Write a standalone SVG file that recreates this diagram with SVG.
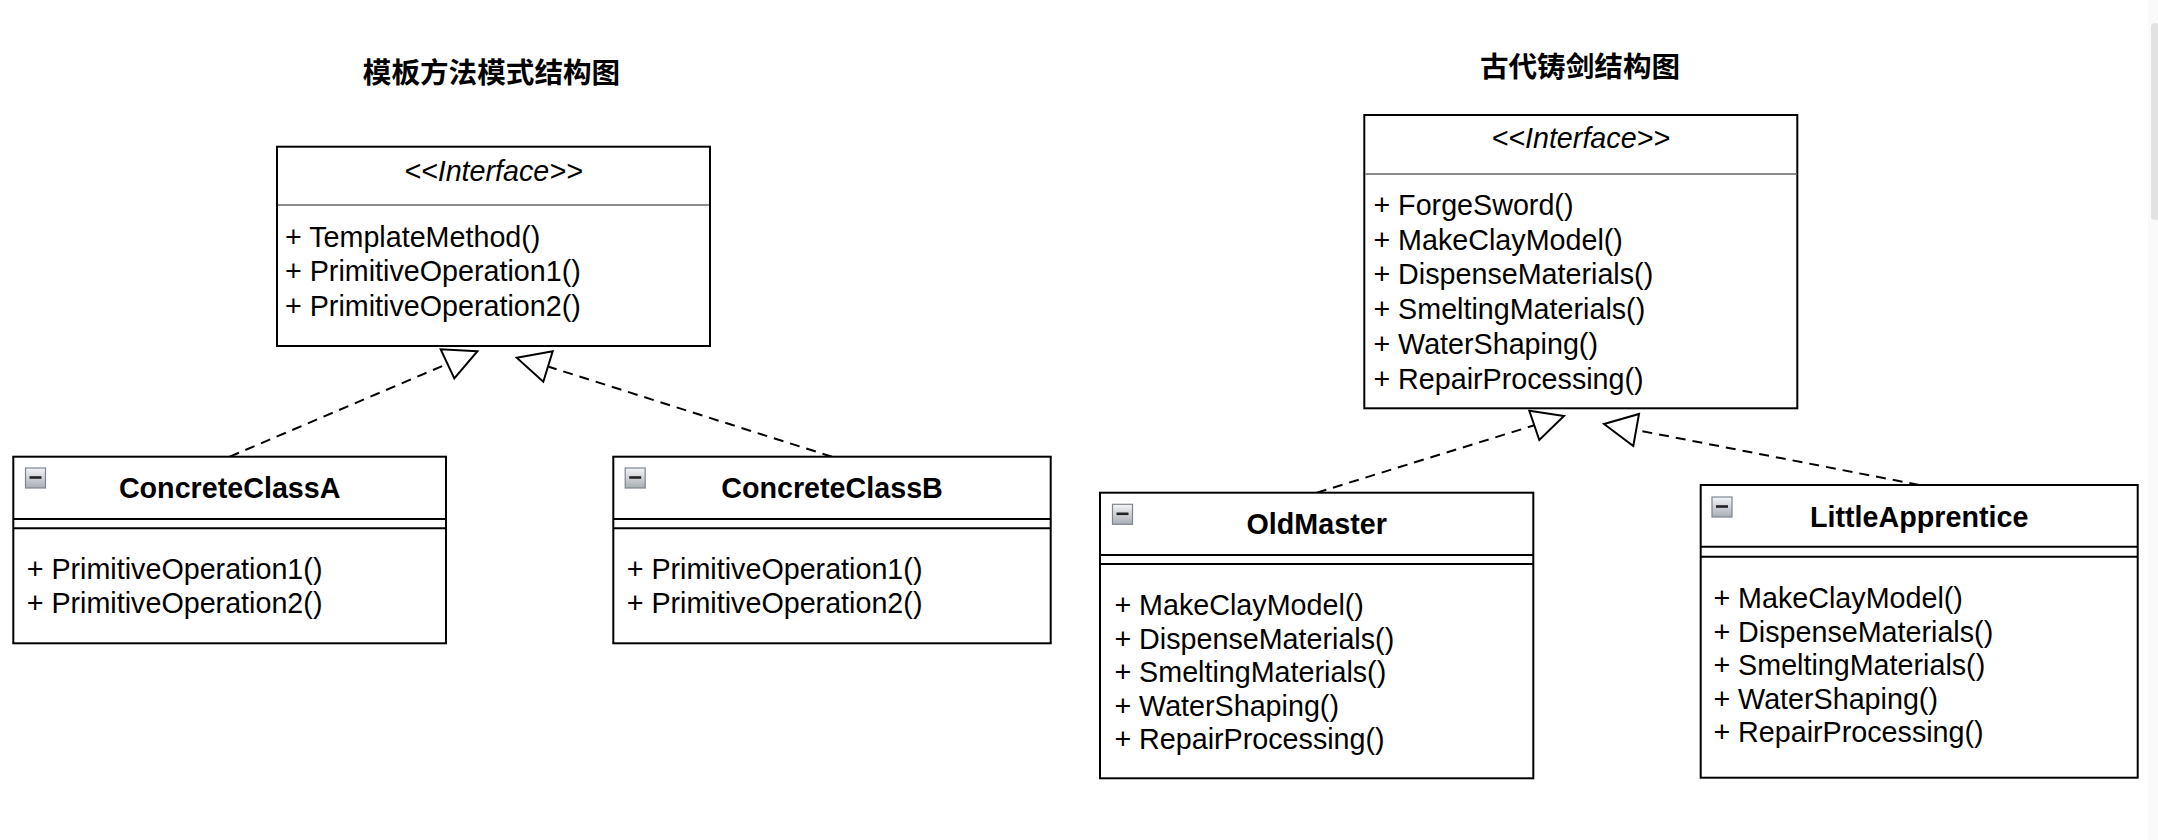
<svg xmlns="http://www.w3.org/2000/svg" xmlns:xlink="http://www.w3.org/1999/xlink" width="2158" height="840" viewBox="0 0 2158 840">
  <style>
    .box { fill: #ffffff; stroke: #000000; stroke-width: 2; }
    .sep { stroke: #000000; stroke-width: 2; }
    .gsep { stroke: #8c8c8c; stroke-width: 2; }
    .t { font-family: "Liberation Sans", Arial, Helvetica, sans-serif; font-size: 28.7px; fill: #000000; }
    .name { font-weight: bold; text-anchor: middle; }
    .stereo { font-style: italic; text-anchor: middle; }
    .title { font-family: "Liberation Sans", "Noto Sans CJK SC", sans-serif; font-size: 28.6px; font-weight: bold; text-anchor: middle; fill: #000000; }
    .dash { fill: none; stroke: #000000; stroke-width: 2; stroke-dasharray: 10 7; }
    .tri { fill: #ffffff; stroke: #000000; stroke-width: 2; stroke-linejoin: miter; }
  </style>
  <defs>
    <linearGradient id="iconGrad" x1="0" y1="0" x2="0" y2="1">
      <stop offset="0" stop-color="#f4f5f7"/>
      <stop offset="1" stop-color="#a9adb5"/>
    </linearGradient>
    <g id="collapse">
      <rect x="0.5" y="0.5" width="20" height="20" fill="url(#iconGrad)" stroke="#7f8590" stroke-width="1.2"/>
      <line x1="4.5" y1="10" x2="16.5" y2="10" stroke="#222222" stroke-width="2.6"/>
    </g>
  </defs>

  <rect x="0" y="0" width="2158" height="840" fill="#ffffff"/>
  <rect x="2148" y="0" width="10" height="840" fill="#fafafa"/>
  <rect x="2151" y="23" width="8" height="197" rx="4" fill="#e2e2e2"/>

  <g id="titles">
    <text class="title" x="491.5" y="83">模板方法模式结构图</text>
    <text class="title" x="1580" y="76.5">古代铸剑结构图</text>
  </g>

  <g id="connectors">
    <line class="dash" x1="229.7" y1="456.7" x2="447.5" y2="363.8"/>
    <polygon class="tri" points="477.3,351.3 440.7,349.3 454.3,378.3"/>
    <line class="dash" x1="832" y1="456.7" x2="548" y2="366.5"/>
    <polygon class="tri" points="516.7,357.7 552.7,351.3 543.3,381.7"/>
    <line class="dash" x1="1316.7" y1="492.7" x2="1534.3" y2="425.3"/>
    <polygon class="tri" points="1564,416 1529.3,410.7 1539.3,440"/>
    <line class="dash" x1="1919.2" y1="485" x2="1636.2" y2="430"/>
    <polygon class="tri" points="1604,424 1639,414 1633.3,446"/>
  </g>

  <g id="interface-left">
    <rect class="box" x="277" y="146.7" width="433" height="199.3"/>
    <line class="gsep" x1="278" y1="205" x2="709" y2="205"/>
    <text class="t stereo" x="493.5" y="180.7">&lt;&lt;Interface&gt;&gt;</text>
    <text class="t" x="285" y="246.7">+ TemplateMethod()</text>
    <text class="t" x="285" y="281.4">+ PrimitiveOperation1()</text>
    <text class="t" x="285" y="316">+ PrimitiveOperation2()</text>
  </g>

  <g id="concrete-class-a">
    <rect class="box" x="13.3" y="456.7" width="432.7" height="186.6"/>
    <line class="sep" x1="13.3" y1="519" x2="446" y2="519"/>
    <line class="sep" x1="13.3" y1="528.3" x2="446" y2="528.3"/>
    <use xlink:href="#collapse" x="25" y="467.5"/>
    <text class="t name" x="229.7" y="498.3">ConcreteClassA</text>
    <text class="t" x="26.7" y="579.3">+ PrimitiveOperation1()</text>
    <text class="t" x="26.7" y="613.3">+ PrimitiveOperation2()</text>
  </g>

  <g id="concrete-class-b">
    <rect class="box" x="613.3" y="456.7" width="437.4" height="186.6"/>
    <line class="sep" x1="613.3" y1="519" x2="1050.7" y2="519"/>
    <line class="sep" x1="613.3" y1="528.3" x2="1050.7" y2="528.3"/>
    <use xlink:href="#collapse" x="624.7" y="467.5"/>
    <text class="t name" x="832" y="498.3">ConcreteClassB</text>
    <text class="t" x="626.7" y="579.3">+ PrimitiveOperation1()</text>
    <text class="t" x="626.7" y="613.3">+ PrimitiveOperation2()</text>
  </g>

  <g id="interface-right">
    <rect class="box" x="1364.3" y="115" width="433" height="293.3"/>
    <line class="gsep" x1="1365.3" y1="174" x2="1796.3" y2="174"/>
    <text class="t stereo" x="1580.8" y="148.3">&lt;&lt;Interface&gt;&gt;</text>
    <text class="t" x="1373.4" y="215">+ ForgeSword()</text>
    <text class="t" x="1373.4" y="249.7">+ MakeClayModel()</text>
    <text class="t" x="1373.4" y="284.4">+ DispenseMaterials()</text>
    <text class="t" x="1373.4" y="319.1">+ SmeltingMaterials()</text>
    <text class="t" x="1373.4" y="353.8">+ WaterShaping()</text>
    <text class="t" x="1373.4" y="388.5">+ RepairProcessing()</text>
  </g>

  <g id="old-master">
    <rect class="box" x="1100" y="492.7" width="433.3" height="285.6"/>
    <line class="sep" x1="1100" y1="555" x2="1533.3" y2="555"/>
    <line class="sep" x1="1100" y1="564" x2="1533.3" y2="564"/>
    <use xlink:href="#collapse" x="1112" y="503.8"/>
    <text class="t name" x="1316.7" y="534.3">OldMaster</text>
    <text class="t" x="1114.4" y="615">+ MakeClayModel()</text>
    <text class="t" x="1114.4" y="648.6">+ DispenseMaterials()</text>
    <text class="t" x="1114.4" y="682.2">+ SmeltingMaterials()</text>
    <text class="t" x="1114.4" y="715.8">+ WaterShaping()</text>
    <text class="t" x="1114.4" y="749.4">+ RepairProcessing()</text>
  </g>

  <g id="little-apprentice">
    <rect class="box" x="1700.7" y="485" width="437" height="292.7"/>
    <line class="sep" x1="1700.7" y1="546.7" x2="2137.7" y2="546.7"/>
    <line class="sep" x1="1700.7" y1="556.7" x2="2137.7" y2="556.7"/>
    <use xlink:href="#collapse" x="1711.5" y="496.5"/>
    <text class="t name" x="1919.2" y="526.7">LittleApprentice</text>
    <text class="t" x="1713.4" y="608.3">+ MakeClayModel()</text>
    <text class="t" x="1713.4" y="641.8">+ DispenseMaterials()</text>
    <text class="t" x="1713.4" y="675.3">+ SmeltingMaterials()</text>
    <text class="t" x="1713.4" y="708.8">+ WaterShaping()</text>
    <text class="t" x="1713.4" y="742.3">+ RepairProcessing()</text>
  </g>
</svg>
